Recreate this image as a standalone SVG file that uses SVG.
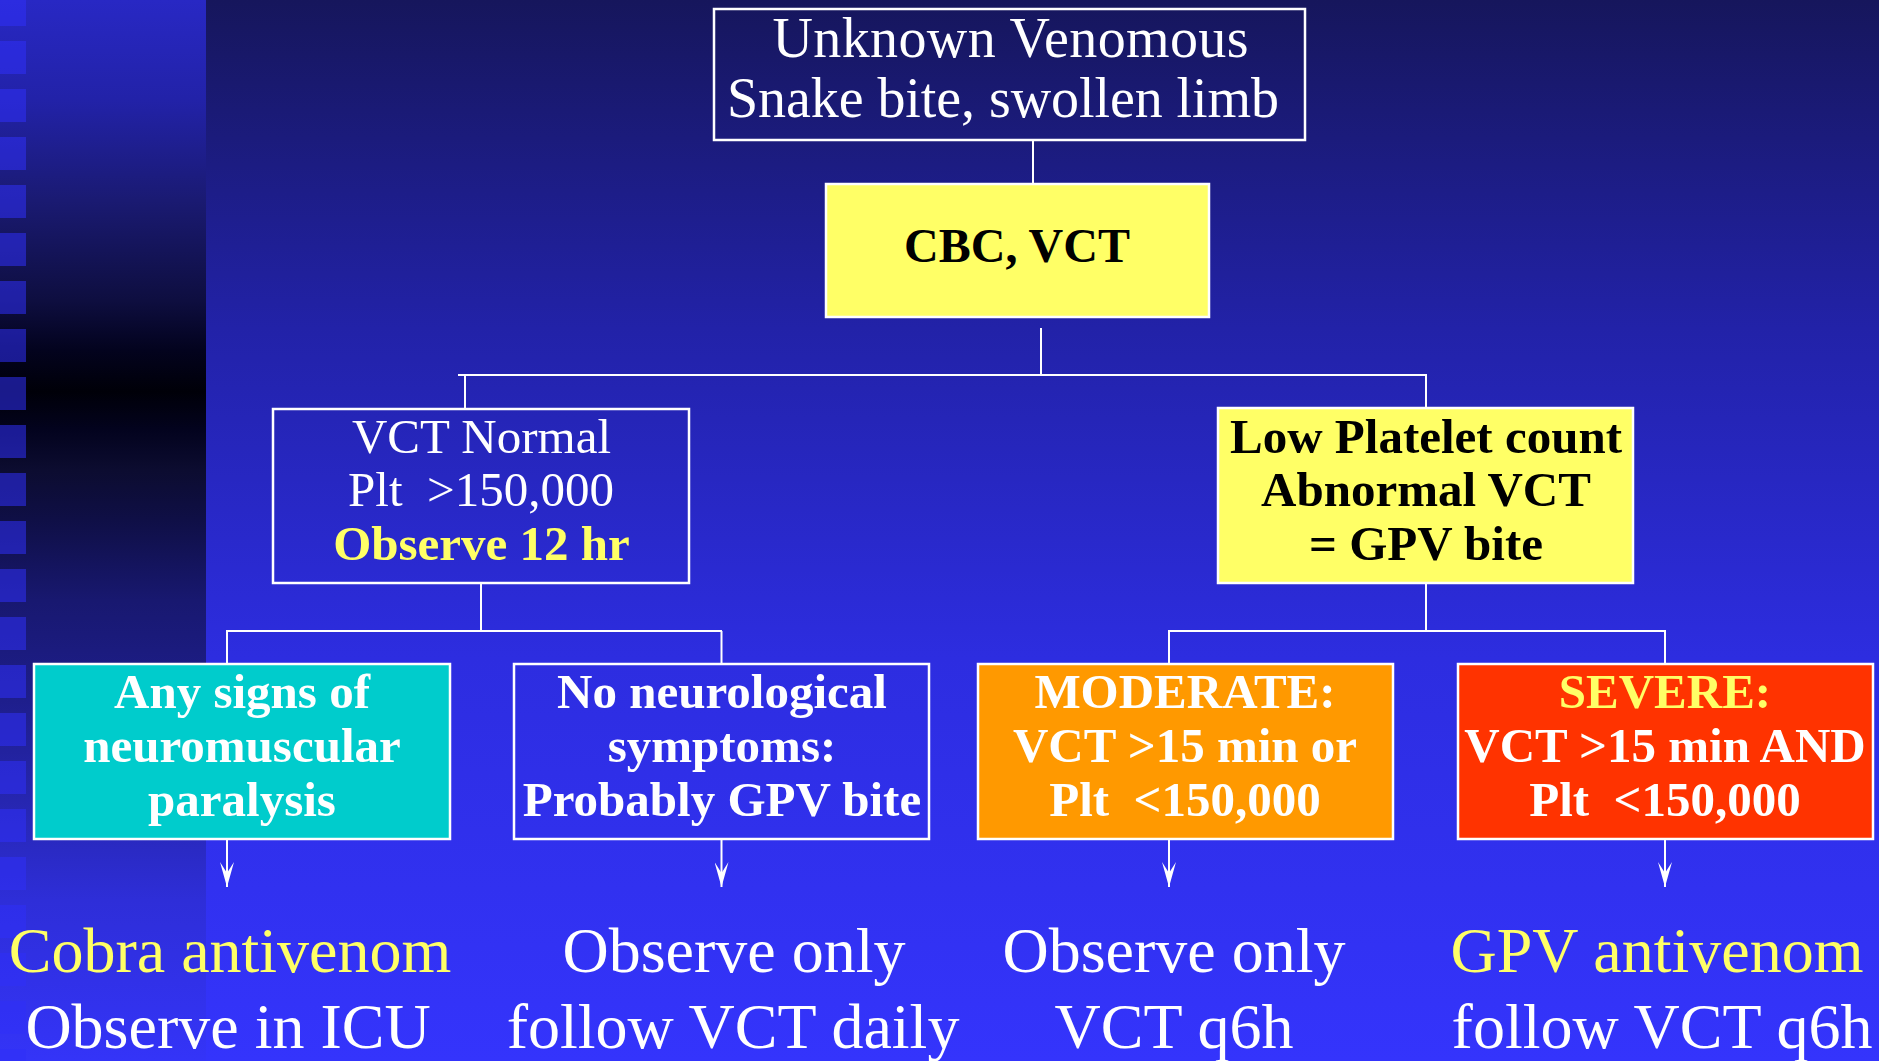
<svg xmlns="http://www.w3.org/2000/svg" width="1879" height="1061" viewBox="0 0 1879 1061">
  <defs>
    <linearGradient id="bgMain" x1="0" y1="0" x2="0" y2="1">
      <stop offset="0" stop-color="#16165c"/>
      <stop offset="0.31" stop-color="#2222a8"/>
      <stop offset="0.62" stop-color="#2d2de0"/>
      <stop offset="1" stop-color="#3434fc"/>
    </linearGradient>
    <linearGradient id="bgPanel" x1="0" y1="0" x2="0" y2="1">
      <stop offset="0" stop-color="#2828c4"/>
      <stop offset="0.094" stop-color="#2222a8"/>
      <stop offset="0.189" stop-color="#1a1a72"/>
      <stop offset="0.283" stop-color="#0e0e40"/>
      <stop offset="0.33" stop-color="#03031e"/>
      <stop offset="0.369" stop-color="#000008"/>
      <stop offset="0.405" stop-color="#03031e"/>
      <stop offset="0.443" stop-color="#0c0c30"/>
      <stop offset="0.49" stop-color="#0f0f46"/>
      <stop offset="0.566" stop-color="#181870"/>
      <stop offset="0.66" stop-color="#1e1e8c"/>
      <stop offset="0.754" stop-color="#2626b0"/>
      <stop offset="0.848" stop-color="#2e2ed8"/>
      <stop offset="1" stop-color="#3434f8"/>
    </linearGradient>
    <marker id="arr" viewBox="0 0 25 14" refX="25" refY="7" markerWidth="25" markerHeight="14" markerUnits="userSpaceOnUse" orient="auto">
      <path d="M0,0 L25,7 L0,14 L11,7 Z" fill="#ffffff"/>
    </marker>
  </defs>
  <style>
    .box { stroke: #ffffff; stroke-width: 2.5; }
    .conn { stroke: #ffffff; stroke-width: 2; fill: none; }
    .t { font-family: "Liberation Serif", "Times New Roman", serif; text-anchor: middle; }
    .reg { font-weight: normal; }
    .b { font-weight: bold; font-size: 49px; }
    .w { fill: #ffffff; }
    .k { fill: #000000; }
    .y { fill: #ffff66; }
    .sq { fill: #3030f8; opacity: 0.55; }
  </style>

  <!-- background -->
  <rect x="0" y="0" width="1879" height="1061" fill="url(#bgMain)"/>
  <rect x="0" y="0" width="206" height="1061" fill="url(#bgPanel)"/>
  <g id="strip">
    <rect class="sq" x="0" y="-7" width="26" height="33"/>
    <rect class="sq" x="0" y="41" width="26" height="33"/>
    <rect class="sq" x="0" y="89" width="26" height="33"/>
    <rect class="sq" x="0" y="137" width="26" height="33"/>
    <rect class="sq" x="0" y="185" width="26" height="33"/>
    <rect class="sq" x="0" y="233" width="26" height="33"/>
    <rect class="sq" x="0" y="281" width="26" height="33"/>
    <rect class="sq" x="0" y="329" width="26" height="33"/>
    <rect class="sq" x="0" y="377" width="26" height="33"/>
    <rect class="sq" x="0" y="425" width="26" height="33"/>
    <rect class="sq" x="0" y="473" width="26" height="33"/>
    <rect class="sq" x="0" y="521" width="26" height="33"/>
    <rect class="sq" x="0" y="569" width="26" height="33"/>
    <rect class="sq" x="0" y="617" width="26" height="33"/>
    <rect class="sq" x="0" y="665" width="26" height="33"/>
    <rect class="sq" x="0" y="713" width="26" height="33"/>
    <rect class="sq" x="0" y="761" width="26" height="33"/>
    <rect class="sq" x="0" y="809" width="26" height="33"/>
    <rect class="sq" x="0" y="857" width="26" height="33"/>
    <rect class="sq" x="0" y="905" width="26" height="33"/>
    <rect class="sq" x="0" y="953" width="26" height="33"/>
    <rect class="sq" x="0" y="1001" width="26" height="33"/>
    <rect class="sq" x="0" y="1049" width="26" height="33"/>
  </g>

  <!-- connectors -->
  <g id="connectors">
    <line class="conn" x1="1033" y1="140" x2="1033" y2="184"/>
    <line class="conn" x1="1041" y1="328" x2="1041" y2="375"/>
    <line class="conn" x1="458" y1="375" x2="1427" y2="375"/>
    <line class="conn" x1="465" y1="375" x2="465" y2="409"/>
    <line class="conn" x1="1426" y1="375" x2="1426" y2="408"/>
    <line class="conn" x1="481" y1="583" x2="481" y2="631"/>
    <line class="conn" x1="226" y1="631" x2="722" y2="631"/>
    <line class="conn" x1="227" y1="631" x2="227" y2="664"/>
    <line class="conn" x1="721.5" y1="631" x2="721.5" y2="664"/>
    <line class="conn" x1="1426" y1="583" x2="1426" y2="631"/>
    <line class="conn" x1="1168" y1="631" x2="1666" y2="631"/>
    <line class="conn" x1="1169" y1="631" x2="1169" y2="664"/>
    <line class="conn" x1="1665" y1="631" x2="1665" y2="664"/>
    <line class="conn" x1="227" y1="839" x2="227" y2="887" marker-end="url(#arr)"/>
    <line class="conn" x1="721.5" y1="839" x2="721.5" y2="887" marker-end="url(#arr)"/>
    <line class="conn" x1="1169" y1="839" x2="1169" y2="887" marker-end="url(#arr)"/>
    <line class="conn" x1="1665" y1="839" x2="1665" y2="887" marker-end="url(#arr)"/>
  </g>

  <g id="n-start">
    <rect class="box" x="714" y="9" width="591" height="131" fill="none"/>
    <text class="t reg w" x="1010.5" y="57" font-size="56" textLength="476">Unknown Venomous</text>
    <text class="t reg w" x="1003" y="117" font-size="56" textLength="552">Snake bite, swollen limb</text>
  </g>

  <g id="n-cbc">
    <rect class="box" x="826" y="184" width="383" height="133" fill="#ffff66"/>
    <text class="t k" x="1017" y="262" font-size="48" font-weight="bold">CBC, VCT</text>
  </g>

  <g id="n-normal">
    <rect class="box" x="273" y="409" width="416" height="174" fill="none"/>
    <text class="t reg w" x="481.5" y="453" font-size="49">VCT Normal</text>
    <text class="t reg w" x="481" y="506" font-size="49" xml:space="preserve">Plt  &gt;150,000</text>
    <text class="t b y" x="481.5" y="560">Observe 12 hr</text>
  </g>

  <g id="n-lowplt">
    <rect class="box" x="1218" y="408" width="415" height="175" fill="#ffff66"/>
    <text class="t b k" x="1426" y="453">Low Platelet count</text>
    <text class="t b k" x="1426" y="506">Abnormal VCT</text>
    <text class="t b k" x="1426" y="560">= GPV bite</text>
  </g>

  <g id="n-neuro">
    <rect class="box" x="34" y="664" width="416" height="175" fill="#00cccc"/>
    <text class="t b w" x="242" y="708">Any signs of</text>
    <text class="t b w" x="242" y="762">neuromuscular</text>
    <text class="t b w" x="242" y="816">paralysis</text>
  </g>

  <g id="n-noneuro">
    <rect class="box" x="514" y="664" width="415" height="175" fill="none"/>
    <text class="t b w" x="722" y="708">No neurological</text>
    <text class="t b w" x="722" y="762">symptoms:</text>
    <text class="t b w" x="722" y="816">Probably GPV bite</text>
  </g>

  <g id="n-moderate">
    <rect class="box" x="978" y="664" width="415" height="175" fill="#ff9900"/>
    <text class="t b w" x="1185" y="708">MODERATE:</text>
    <text class="t b w" x="1185" y="762">VCT &gt;15 min or</text>
    <text class="t b w" x="1185" y="816" xml:space="preserve">Plt  &lt;150,000</text>
  </g>

  <g id="n-severe">
    <rect class="box" x="1458" y="664" width="415" height="175" fill="#ff3300"/>
    <text class="t b y" x="1665" y="708">SEVERE:</text>
    <text class="t b w" x="1665" y="762">VCT &gt;15 min AND</text>
    <text class="t b w" x="1665" y="816" xml:space="preserve">Plt  &lt;150,000</text>
  </g>

  <g id="n-cobra">
    <text class="t reg y" x="230" y="972" font-size="64">Cobra antivenom</text>
    <text class="t reg w" x="228" y="1048" font-size="64">Observe in ICU</text>
  </g>

  <g id="n-observe1">
    <text class="t reg w" x="734" y="972" font-size="64">Observe only</text>
    <text class="t reg w" x="733" y="1048" font-size="64">follow VCT daily</text>
  </g>

  <g id="n-observe2">
    <text class="t reg w" x="1174" y="972" font-size="64">Observe only</text>
    <text class="t reg w" x="1174" y="1048" font-size="64">VCT q6h</text>
  </g>

  <g id="n-gpv">
    <text class="t reg y" x="1657" y="972" font-size="64">GPV antivenom</text>
    <text class="t reg w" x="1662" y="1048" font-size="64">follow VCT q6h</text>
  </g>
</svg>
